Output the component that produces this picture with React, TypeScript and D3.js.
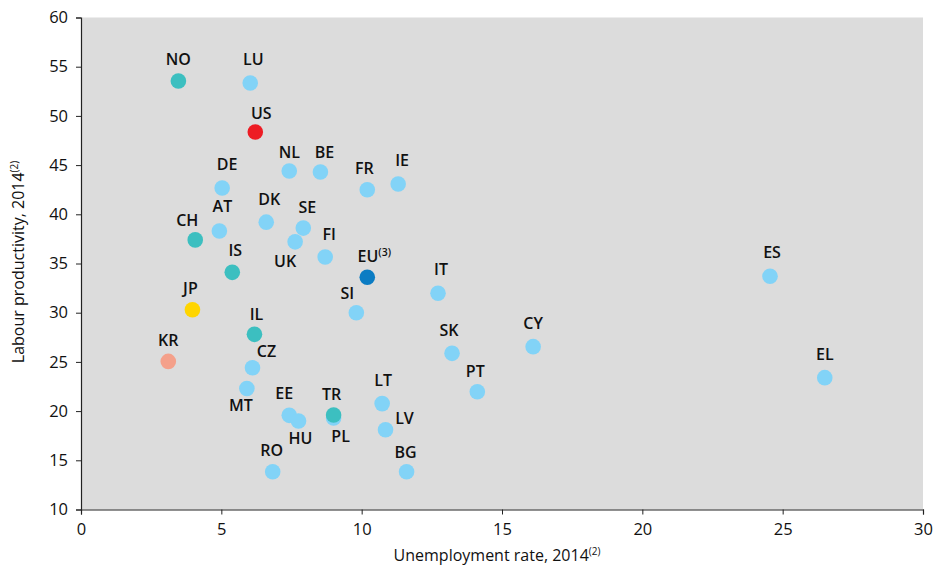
import React, { useEffect, useRef } from "react";
import * as d3 from "d3";

const countries = ["NO","LU","US","DE","NL","BE","FR","IE","DK","SE","AT","CH","UK","FI","IS","EU","ES","JP","SI","IT","IL","KR","CZ","SK","CY","EL","MT","PT","EE","HU","PL","TR","LT","LV","BG","RO"];
const unemployment = [3.47,6.03,6.21,5.03,7.42,8.53,10.2,11.3,6.6,7.92,4.93,4.07,7.63,8.7,5.39,10.2,24.55,3.97,9.81,12.72,6.18,3.11,6.11,13.22,16.11,26.5,5.91,14.12,7.42,7.75,9.0,9.0,10.73,10.85,11.6,6.83];
const productivity = [53.55,53.34,48.36,42.67,44.4,44.3,42.5,43.08,39.2,38.6,38.3,37.4,37.2,35.66,34.1,33.6,33.7,30.3,30.0,31.97,27.8,25.05,24.4,25.87,26.55,23.4,22.3,21.97,19.57,19.0,19.3,19.6,20.76,18.1,13.84,13.84];
const groups = ["other","eu","us","eu","eu","eu","eu","eu","eu","eu","eu","other","eu","eu","other","euavg","eu","jp","eu","eu","other","kr","eu","eu","eu","eu","eu","eu","eu","eu","eu","other","eu","eu","eu","eu"];
const superscripts: Record<string,string> = { EU: "(3)" };
const labelDx = [0,3,6,5,0,4,-3,4,3,4,3,-8,-10,4,3,0,2,-2,-9,3,2,0,14,-3,0,0,-6,-2,-5,2,7,-2,1,19,-1,-1];
const labelDy = [-16,-18,-13,-18,-13,-14,-16,-18,-17,-15,-19,-14,25,-17,-16,-15,-18,-16,-14,-18,-14,-15,-11,-17,-18,-18,23,-15,-16,23,24,-15,-18,-6,-14,-16];

const xTicks = [0,5,10,15,20,25,30];
const yTicks = [10,15,20,25,30,35,40,45,50,55,60];

const colors: Record<string,string> = {
  eu: "#82d3f7",
  other: "#3cbfc0",
  us: "#ed1c24",
  jp: "#ffd500",
  kr: "#f4a08a",
  euavg: "#0b7cc3",
};

const W = 938, H = 567;
const margin = { left: 81, right: 15, top: 17.5, bottom: 57.5 };
const FONT = "'Open Sans', 'DejaVu Sans', sans-serif";

export default function App() {
  const ref = useRef<SVGSVGElement>(null);
  useEffect(() => {
    const svg = d3.select(ref.current);
    svg.selectAll("*").remove();
    const x = d3.scaleLinear().domain([0, 30]).range([margin.left, W - margin.right]);
    const y = d3.scaleLinear().domain([10, 60]).range([H - margin.bottom, margin.top]);

    svg.append("rect")
      .attr("x", x(0)).attr("y", y(60))
      .attr("width", x(30) - x(0)).attr("height", y(10) - y(60))
      .attr("fill", "#dcdcdc");

    const xa = svg.append("g").attr("transform", `translate(0,${y(10)})`)
      .call(d3.axisBottom(x).tickValues(xTicks).tickSize(5).tickPadding(9).tickFormat(d3.format("d")));
    const ya = svg.append("g").attr("transform", `translate(${x(0)},0)`)
      .call(d3.axisLeft(y).tickValues(yTicks).tickSize(5).tickPadding(8).tickFormat(d3.format("d")));
    [xa, ya].forEach((a) => {
      a.select(".domain").attr("stroke", "#222").attr("stroke-width", 1.2);
      a.selectAll(".tick line").attr("stroke", "#222");
      a.selectAll(".tick text").attr("font-family", FONT).attr("font-size", 16.5).attr("font-weight", 500).attr("fill", "#111");
    });

    const pts = countries.map((c, i) => ({ c, i, ux: unemployment[i], py: productivity[i], g: groups[i] }));
    svg.append("g").selectAll("circle").data(pts).join("circle")
      .attr("cx", (d) => x(d.ux)).attr("cy", (d) => y(d.py)).attr("r", 7.8)
      .attr("fill", (d) => colors[d.g]);

    const lbl = svg.append("g").attr("font-family", FONT).attr("font-size", 16).attr("font-weight", 600).attr("fill", "#111");
    pts.forEach((d) => {
      const sup = superscripts[d.c];
      const t = lbl.append("text")
        .attr("x", x(d.ux) + labelDx[d.i] + (sup ? 7 : 0))
        .attr("y", y(d.py) + labelDy[d.i])
        .attr("text-anchor", "middle");
      t.append("tspan").text(d.c);
      if (sup) t.append("tspan").attr("font-size", 10.5).attr("dy", -6).text(sup);
    });

    const xt = svg.append("text").attr("x", 497).attr("y", 561)
      .attr("text-anchor", "middle").attr("font-family", FONT).attr("font-size", 16).attr("font-weight", 500).attr("fill", "#111");
    xt.append("tspan").text("Unemployment rate, 2014");
    xt.append("tspan").attr("font-size", 10).attr("dy", -6).text("(2)");

    const yt = svg.append("text").attr("transform", `translate(24,${262}) rotate(-90)`)
      .attr("text-anchor", "middle").attr("font-family", FONT).attr("font-size", 16).attr("font-weight", 500).attr("fill", "#111");
    yt.append("tspan").text("Labour productivity, 2014");
    yt.append("tspan").attr("font-size", 10).attr("dy", -6).text("(2)");
  }, []);
  return (
    <svg ref={ref} width={W} height={H} style={{ position: "absolute", left: 0, top: 0, background: "#fff" }} />
  );
}
